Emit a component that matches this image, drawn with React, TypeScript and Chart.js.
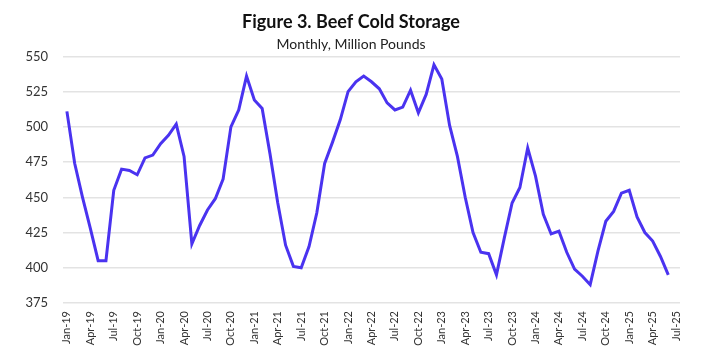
import React, { useEffect, useRef } from "react";
import { Chart, registerables } from "chart.js";

Chart.register(...registerables);

const MONTHS = ["Jan", "Feb", "Mar", "Apr", "May", "Jun", "Jul", "Aug", "Sep", "Oct", "Nov", "Dec"];
const YEARS = ["19", "20", "21", "22", "23", "24", "25"];

// Month labels Jan-19 .. Jul-25
const labels: string[] = [];
for (const y of YEARS) {
  for (const m of MONTHS) {
    labels.push(`${m}-${y}`);
    if (y === "25" && m === "Jul") break;
  }
}

const beef2019 = [511, 474, 450, 428, 405, 405, 455, 470, 469, 466, 478, 480];
const beef2020 = [488, 494, 502, 479, 417, 430, 441, 449, 463, 500, 512, 536];
const beef2021 = [519, 513, 481, 446, 416, 401, 400, 415, 439, 474, 489, 505];
const beef2022 = [525, 532, 536, 532, 527, 517, 512, 514, 526, 510, 523, 544];
const beef2023 = [534, 501, 479, 450, 425, 411, 410, 395, 421, 446, 457, 485];
const beef2024 = [465, 438, 424, 426, 411, 399, 394, 388, 412, 433, 440, 453];
const beef2025 = [455, 436, 425, 419, 408, 395, null];

const values = [...beef2019, ...beef2020, ...beef2021, ...beef2022, ...beef2023, ...beef2024, ...beef2025];

const FONT = "Lato, 'Liberation Sans', sans-serif";

export default function App() {
  const ref = useRef<HTMLCanvasElement>(null);
  useEffect(() => {
    if (!ref.current) return;
    const chart = new Chart(ref.current, {
      type: "line",
      data: {
        labels,
        datasets: [
          {
            data: values,
            borderColor: "#4a33f0",
            borderWidth: 3,
            pointRadius: 0,
            tension: 0,
            fill: false,
          },
        ],
      },
      options: {
        animation: false,
        responsive: false,
        maintainAspectRatio: false,
        layout: { padding: { top: 1, right: 22, bottom: 0, left: 14 } },
        plugins: {
          legend: { display: false },
          tooltip: { enabled: false },
          title: {
            display: true,
            text: "Figure 3. Beef Cold Storage",
            color: "#111",
            font: { family: FONT, size: 18, weight: "bold" },
            padding: { top: 2, bottom: 3 },
          },
          subtitle: {
            display: true,
            text: "Monthly, Million Pounds",
            color: "#222",
            font: { family: FONT, size: 14 },
            padding: { top: 0, bottom: 4 },
          },
        },
        scales: {
          x: {
            offset: true,
            grid: { display: false, drawTicks: false },
            border: { display: false },
            ticks: {
              autoSkip: false,
              minRotation: 90,
              maxRotation: 90,
              padding: 8,
              color: "#333",
              font: { family: FONT, size: 11 },
              callback: (_v: any, i: number) => (i % 3 === 0 ? labels[i] : null),
            },
            afterFit: (s: any) => {
              s.height = 48;
            },
          },
          y: {
            min: 375,
            max: 550,
            grid: { color: "#e3e3e3", lineWidth: 1.5, drawTicks: false },
            border: { display: false },
            ticks: {
              stepSize: 25,
              padding: 15,
              color: "#333",
              font: { family: FONT, size: 13 },
            },
            afterFit: (s: any) => {
              s.width = 41;
            },
          },
        },
      },
    });
    return () => chart.destroy();
  }, []);
  return (
    <div style={{ width: 694, height: 343, background: "#fff" }}>
      <canvas ref={ref} width={694} height={343} />
    </div>
  );
}
